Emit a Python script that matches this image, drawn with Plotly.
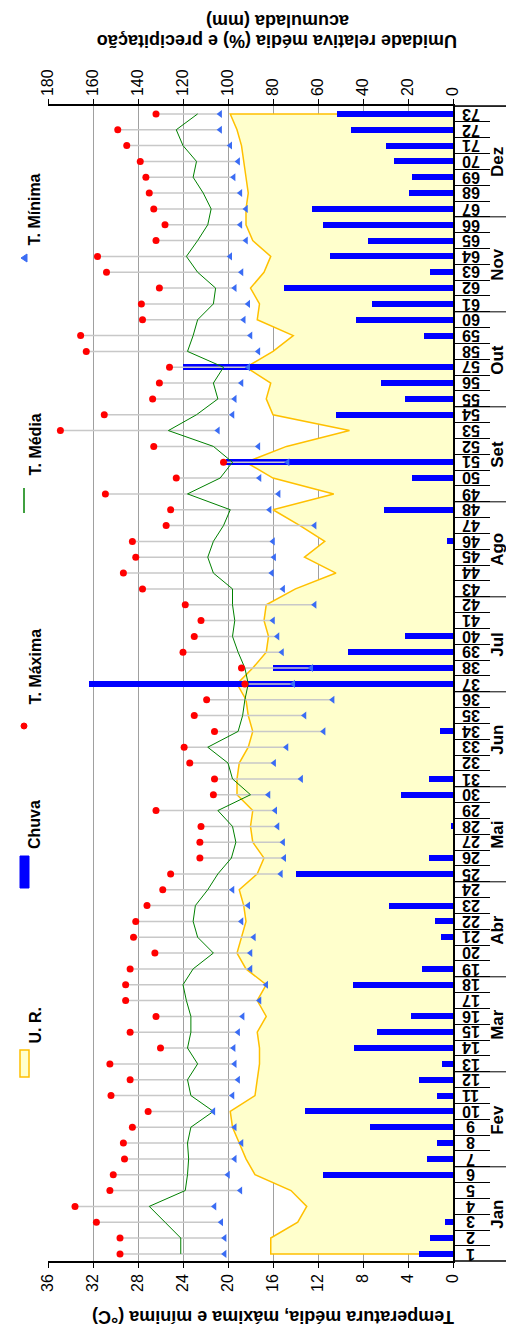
import plotly.graph_objects as go

weeks = list(range(1, 74))
week_labels = [str(w) for w in weeks]
months = ["Jan", "Fev", "Mar", "Abr", "Mai", "Jun", "Jul", "Ago", "Set", "Out", "Nov", "Dez"]
month_start = [1, 7, 13, 19, 25, 31, 37, 43, 49, 55, 61, 67]
month_end = [6, 12, 18, 24, 30, 36, 42, 48, 54, 60, 66, 73]

t_max = [29.6, 29.6, 31.7, 33.6, 30.5, 30.2, 29.2, 29.3, 28.5, 27.1,
         30.4, 28.7, 30.5, 26.0, 28.7, 26.4, 29.1, 29.1, 28.7, 26.5,
         28.4, 28.2, 27.2, 25.8, 25.1, 22.5, 22.5, 22.4, 26.4, 21.3,
         21.2, 23.4, 23.9, 21.2, 23.0, 21.9, 18.5, 18.8, 24.0, 23.0,
         22.4, 23.8, 27.6, 29.3, 28.2, 28.5, 25.5, 25.1, 30.9, 24.6,
         20.4, 26.6, 34.9, 31.0, 26.7, 26.1, 25.2, 32.6, 33.1, 27.6,
         27.7, 26.1, 30.8, 31.6, 26.4, 25.6, 26.6, 27.0, 27.3, 27.8,
         29.0, 29.8, 26.4]
t_min = [20.3, 20.3, 20.6, 21.2, 18.9, 20.0, 19.4, 18.8, 19.4, 21.3,
         19.6, 19.1, 19.4, 19.5, 19.1, 18.7, 17.2, 16.6, 18.0, 18.0,
         17.7, 18.8, 18.2, 19.6, 15.3, 15.0, 15.1, 15.6, 15.8, 16.4,
         13.5, 15.9, 14.8, 11.5, 13.2, 10.7, 14.2, 12.6, 15.2, 15.6,
         16.0, 12.3, 15.1, 16.1, 15.9, 16.0, 12.3, 16.3, 15.5, 17.2,
         14.7, 17.3, 20.9, 19.6, 19.4, 18.8, 18.2, 17.3, 18.0, 18.6,
         18.2, 19.4, 18.8, 19.8, 18.4, 18.9, 18.4, 18.9, 19.5, 19.1,
         19.8, 20.7, 20.7]
t_med = [24.2, 24.2, 25.6, 27.0, 23.8, 23.6, 23.5, 23.6, 23.3, 21.3,
         23.3, 23.6, 22.7, 23.6, 23.3, 23.3, 23.7, 24.0, 23.1, 21.3,
         22.7, 23.1, 22.9, 21.8, 20.9, 19.7, 19.3, 19.6, 20.9, 18.0,
         19.6, 20.0, 21.8, 19.1, 18.7, 18.5, 18.2, 18.5, 19.1, 19.6,
         19.4, 19.6, 19.6, 21.3, 21.8, 21.3, 20.4, 19.8, 23.6, 20.7,
         19.6, 21.3, 25.3, 22.8, 20.9, 21.3, 20.4, 23.6, 23.1, 22.7,
         21.3, 21.1, 22.7, 23.7, 22.7, 21.8, 21.5, 22.2, 23.1, 22.8,
         24.0, 24.6, 22.7]
rain = [15.0, 10.4, 3.5, 0, 0, 57.8, 11.6, 7.0, 37.0, 66.0,
        7.0, 15.0, 5.0, 44.0, 33.8, 18.5, 0, 44.4, 13.8, 0,
        5.3, 8.0, 28.4, 0, 70.0, 10.7, 0, 0.5, 0, 23.0,
        10.7, 0, 0, 5.8, 0, 0, 162.0, 80.0, 46.7, 21.3,
        0, 0, 0, 0, 0, 2.5, 0, 30.7, 0, 18.2,
        101.0, 0, 0, 52.0, 21.5, 32.0, 120.0, 0, 12.7, 43.0,
        36.0, 75.0, 10.4, 54.5, 38.0, 57.8, 62.7, 19.5, 18.3, 26.3,
        29.8, 45.4, 51.5]
ur = [81, 81, 69, 65, 72, 88, 92, 95, 98, 99,
      88, 87, 86, 86, 87, 83, 87, 83, 92, 96,
      94, 92, 93, 95, 87, 84, 89, 90, 89, 96,
      96, 95, 91, 89, 91, 92, 96, 89, 83, 82,
      84, 83, 70, 52, 66, 57, 68, 80, 53, 80,
      92, 74, 46, 80, 83, 81, 92, 80, 71, 87,
      86, 90, 84, 81, 89, 92, 92, 91, 92, 93,
      94, 96, 99]

FONT = "Arial, Liberation Sans, sans-serif"
W, H = 514, 1325
L, R, T, B = 40, 445, 98, 1253


def px(x):
    return (x - L) / (R - L)


def py(y):
    return (B - y) / (B - T)


fig = go.Figure()

# U.R. area (base axis: humidity/rain)
fig.add_trace(go.Scatter(
    x=[0] + ur + [0], y=[weeks[0]] + weeks + [weeks[-1]],
    fill="toself", fillcolor="#FFFFCC", mode="lines",
    line=dict(color="#FFC000", width=1.5), xaxis="x", yaxis="y",
    showlegend=False, hoverinfo="skip"))

# Rain bars (overlay axis with same scale so they sit above the area)
fig.add_trace(go.Bar(
    x=rain, y=weeks, orientation="h", width=0.38,
    marker=dict(color="#0000FF", line=dict(width=0)),
    xaxis="x2", yaxis="y", showlegend=False))

# min-max lines
lx, ly = [], []
for w, a, b in zip(weeks, t_min, t_max):
    lx += [a, b, None]
    ly += [w, w, None]
fig.add_trace(go.Scatter(x=lx, y=ly, mode="lines",
                         line=dict(color="#C8C8C8", width=1.5),
                         xaxis="x3", yaxis="y", showlegend=False))

fig.add_trace(go.Scatter(x=t_med, y=weeks, mode="lines",
                         line=dict(color="#008000", width=1),
                         xaxis="x3", yaxis="y", showlegend=False))
fig.add_trace(go.Scatter(x=t_max, y=weeks, mode="markers",
                         marker=dict(color="#FF0000", size=7, symbol="circle"),
                         xaxis="x3", yaxis="y", showlegend=False))
fig.add_trace(go.Scatter(x=t_min, y=weeks, mode="markers",
                         marker=dict(color="#3A6CF4", size=7, symbol="triangle-left"),
                         xaxis="x3", yaxis="y", showlegend=False))

shapes = []
annotations = []

# week labels (upside-down, centred between the tick marks)
for w, lab in zip(weeks, week_labels):
    annotations.append(dict(text=f"<b>{lab}</b>", x=px(463), xref="paper",
                            y=w, yref="y", showarrow=False, textangle=180,
                            xanchor="center", yanchor="middle", borderpad=0,
                            font=dict(size=16, family=FONT, color="black")))

# month separator lines
for b in [0.5] + [e + 0.5 for e in month_end]:
    shapes.append(dict(type="line", xref="paper", yref="y", x0=1, x1=px(514),
                       y0=b, y1=b, line=dict(color="black", width=1)))
for m, s, e in zip(months, month_start, month_end):
    annotations.append(dict(text=f"<b>{m}</b>", x=px(501), xref="paper",
                            y=(s + e) / 2, yref="y", showarrow=False,
                            textangle=-90, font=dict(size=17, family=FONT, color="black")))

# Axis titles
annotations.append(dict(text="<b>Temperatura média, máxima e mínima (°C)</b>",
                        x=px(265), y=py(1309), xref="paper", yref="paper",
                        showarrow=False, textangle=180, xanchor="center", yanchor="middle",
                        font=dict(size=18, family=FONT, color="black")))
annotations.append(dict(text="<b>Umidade relativa média (%) e precipitação</b>",
                        x=px(269), y=py(33), xref="paper", yref="paper",
                        showarrow=False, textangle=180, xanchor="center", yanchor="middle",
                        borderpad=0,
                        font=dict(size=18, family=FONT, color="black")))
annotations.append(dict(text="<b>acumulada (mm)</b>",
                        x=px(270), y=py(13), xref="paper", yref="paper",
                        showarrow=False, textangle=180, xanchor="center", yanchor="middle",
                        borderpad=0,
                        font=dict(size=18, family=FONT, color="black")))

# Legend (drawn manually, rotated)
def legend_text(txt, ybottom):
    annotations.append(dict(text=f"<b>{txt}</b>", x=px(16), y=py(ybottom),
                            xref="paper", yref="paper", showarrow=False,
                            textangle=-90, yanchor="bottom",
                            font=dict(size=16, family=FONT, color="black")))

legend_text("U. R.", 1038)
shapes.append(dict(type="rect", xref="paper", yref="paper",
                   x0=px(12), x1=px(21), y0=py(1069), y1=py(1042),
                   fillcolor="#FFFFCC", line=dict(color="#FFC000", width=1.5)))
legend_text("Chuva", 843)
shapes.append(dict(type="rect", xref="paper", yref="paper",
                   x0=px(12), x1=px(21), y0=py(880), y1=py(848),
                   fillcolor="#0000FF", line=dict(color="#0000FF", width=1)))
legend_text("T. Máxima", 699)
shapes.append(dict(type="circle", xref="paper", yref="paper",
                   x0=px(13), x1=px(19), y0=py(721), y1=py(715),
                   fillcolor="#FF0000", line=dict(color="#FF0000", width=1)))
legend_text("T. Média", 470)
shapes.append(dict(type="line", xref="paper", yref="paper",
                   x0=px(16), x1=px(16), y0=py(505), y1=py(480),
                   line=dict(color="#008000", width=1.5)))
legend_text("T. Mínima", 240)
shapes.append(dict(type="path", xref="paper", yref="paper",
                   path=f"M {px(13)} {py(250)} L {px(19)} {py(246)} L {px(19)} {py(254)} Z",
                   fillcolor="#3A6CF4", line=dict(color="#3A6CF4", width=1)))

# extended top / bottom frame lines
shapes.append(dict(type="line", xref="paper", yref="paper", x0=1, x1=px(514),
                   y0=0, y1=0, line=dict(color="black", width=1.5)))
shapes.append(dict(type="line", xref="paper", yref="paper", x0=1, x1=px(514),
                   y0=1, y1=1, line=dict(color="black", width=1.5)))

tickfont = dict(size=16, family=FONT, color="black")
fig.update_layout(
    width=W, height=H,
    margin=dict(l=L, r=W - R, t=T, b=H - B),
    paper_bgcolor="white", plot_bgcolor="white",
    showlegend=False, bargap=0,
    font=dict(family=FONT, color="black"),
    xaxis=dict(range=[180, 0], side="top", tickvals=list(range(0, 181, 20)),
               tickangle=-90, ticks="outside", ticklen=5, tickcolor="black",
               showline=True, linecolor="black", linewidth=1.5,
               showgrid=True, gridcolor="#A0A0A0", gridwidth=1, zeroline=False,
               tickfont=tickfont, tickprefix="<b>", ticksuffix="</b>"),
    xaxis2=dict(range=[180, 0], overlaying="x", side="top", visible=False,
                showgrid=False, zeroline=False),
    xaxis3=dict(range=[36, 0], overlaying="x", side="bottom",
                tickvals=list(range(0, 37, 4)), tickangle=-90,
                ticks="outside", ticklen=5, tickcolor="black",
                showline=True, linecolor="black", linewidth=1.5,
                showgrid=False, zeroline=False,
                tickfont=tickfont, tickprefix="<b>", ticksuffix="</b>"),
    yaxis=dict(range=[0.55, 73.5], side="right", tickvals=weeks,
               showticklabels=False, ticks="", showgrid=False, zeroline=False,
               showline=True, linecolor="black", linewidth=1.5,
               minor=dict(tickvals=[w + 0.5 for w in range(0, 73)], ticks="outside",
                          ticklen=35, tickcolor="black", tickwidth=1, showgrid=False)),
    shapes=shapes, annotations=annotations,
)

fig.write_html("out.html")
